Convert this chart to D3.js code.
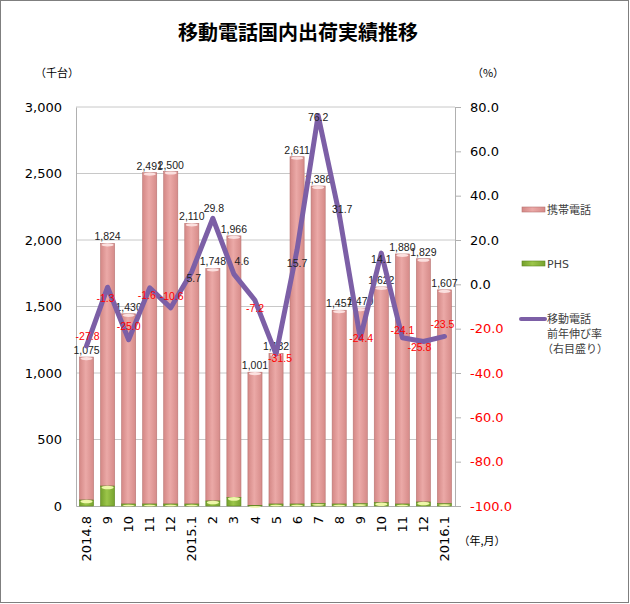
<!DOCTYPE html>
<html lang="ja">
<head>
<meta charset="utf-8">
<title>移動電話国内出荷実績推移</title>
<script src="https://d3js.org/d3.v7.min.js"></script>
<style>
  body { margin: 0; background: #fff; }
  svg text { font-family: "DejaVu Sans", "Noto Sans CJK JP", sans-serif; }
  .jp { font-family: "Noto Sans CJK JP", sans-serif; }
  .lbl { font-family: "Liberation Sans", "Noto Sans CJK JP", sans-serif; font-size: 10.5px; }
</style>
</head>
<body>
<div id="chart"></div>
<script>
// months (x categories)
var months = ["2014.8","9","10","11","12","2015.1","2","3","4","5","6","7","8","9","10","11","12","2016.1"]
// 携帯電話 shipments (千台)
var mobile = [1075,1824,1430,2491,2500,2110,1748,1966,1001,1132,2611,2386,1457,1470,1622,1880,1829,1607]
// PHS shipments (千台)
var phs = [45,150,15,15,15,15,38,65,5,15,15,20,15,18,25,15,30,18]
// 移動電話 前年伸び率 (%)
var growth = [-27.8,-1.3,-25.0,-1.6,-10.6,5.7,29.8,4.6,-7.2,-31.5,15.7,76.2,31.7,-24.4,14.1,-24.1,-25.8,-23.5]
var leftTicks = [0,500,1000,1500,2000,2500,3000]
var rightTicks = [-100,-80,-60,-40,-20,0,20,40,60,80]
// hand-placed nudges for the growth labels, as in the original sheet [dx, dy]
var growthNudge = [[1,-10],[-2,11],[0,-13],[-3,7],[1,-12],[2,7],[1,-10],[8,-13],[0,8],[4,4],[0,14],[0,2],[3,-5],[1,0],[0,6],[0,-7],[-4,6],[-2,-12]]

var w = 630, h = 604
var pLeft = 76, pRight = 455, pTop = 107, pBottom = 506

var svg = d3.select("#chart").append("svg")
  .attr("width", w).attr("height", h)

// outer frame
svg.append("rect")
  .attr("x", 0.5).attr("y", 0.5).attr("width", w - 2).attr("height", h - 2)
  .attr("fill", "#fff").attr("stroke", "#7f7f7f")

var defs = svg.append("defs")
var g1 = defs.append("linearGradient").attr("id", "pink")
g1.append("stop").attr("offset", "0%").attr("stop-color", "#d48886")
g1.append("stop").attr("offset", "45%").attr("stop-color", "#eba9a7")
g1.append("stop").attr("offset", "100%").attr("stop-color", "#d68b89")
var g2 = defs.append("linearGradient").attr("id", "green")
g2.append("stop").attr("offset", "0%").attr("stop-color", "#74a02c")
g2.append("stop").attr("offset", "45%").attr("stop-color", "#9cc64a")
g2.append("stop").attr("offset", "100%").attr("stop-color", "#76a22e")

var x = d3.scaleBand()
  .domain(months.map(function(d, i) { return i }))
  .range([pLeft, pRight])
  .paddingInner(0.33)
  .paddingOuter(0.165)

var y = d3.scaleLinear().domain([0, 3000]).range([pBottom, pTop])
var y2 = d3.scaleLinear().domain([-100, 80]).range([pBottom, pTop])

function pct(d) { return d.toFixed(1) }

// title
svg.append("text")
  .attr("class", "jp")
  .attr("x", 298).attr("y", 40)
  .attr("text-anchor", "middle")
  .style("font-size", "20px").style("font-weight", "bold")
  .text("移動電話国内出荷実績推移")

// gridlines
svg.append("g").selectAll("line")
  .data(leftTicks.filter(function(d) { return d > 0 }))
  .enter().append("line")
  .attr("x1", pLeft).attr("x2", pRight)
  .attr("y1", function(d) { return y(d) }).attr("y2", function(d) { return y(d) })
  .attr("stroke", "#c8c8c8")

// left axis
var yAxis = d3.axisLeft(y).tickValues(leftTicks).tickSize(0).tickPadding(14)
  .tickFormat(d3.format(","))
var ga = svg.append("g").attr("transform", "translate(" + pLeft + ",0)").call(yAxis)
ga.select(".domain").attr("stroke", "#b0b0b0")
ga.selectAll("text").style("font-size", "13px").attr("fill", "#000")

// right axis
var y2Axis = d3.axisRight(y2).tickValues(rightTicks).tickSize(6).tickPadding(9)
  .tickFormat(pct)
var gb = svg.append("g").attr("transform", "translate(" + pRight + ",0)").call(y2Axis)
gb.select(".domain").attr("stroke", "#b0b0b0")
gb.selectAll("line").attr("stroke", "#b0b0b0")
gb.selectAll("text").style("font-size", "13px")
  .attr("fill", function(d) { return d < 0 ? "#ff0000" : "#000" })

// bottom axis
var xAxis = d3.axisBottom(x).tickSize(0).tickPadding(0)
  .tickFormat(function(i) { return months[i] })
var gc = svg.append("g").attr("transform", "translate(0," + pBottom + ")").call(xAxis)
gc.select(".domain").attr("stroke", "#b0b0b0")
gc.selectAll("text")
  .style("font-size", "13px").attr("fill", "#000")
  .attr("text-anchor", "end")
  .attr("transform", "rotate(-90)")
  .attr("x", -10).attr("y", 0).attr("dy", "0.35em")

// unit labels
svg.append("text").attr("class", "jp").attr("x", 57).attr("y", 77)
  .attr("text-anchor", "middle").style("font-size", "11px").text("（千台）")
svg.append("text").attr("class", "jp").attr("x", 488).attr("y", 77)
  .attr("text-anchor", "middle").style("font-size", "11px").text("（%）")
svg.append("text").attr("class", "jp").attr("x", 482).attr("y", 545)
  .attr("text-anchor", "middle").style("font-size", "11px").text("（年,月）")

// stacked bars: PHS at bottom, 携帯電話 on top
var bw = x.bandwidth()
var bars = svg.append("g").selectAll("g")
  .data(months.map(function(d, i) { return i }))
  .enter().append("g")

bars.append("rect")
  .attr("x", function(i) { return x(i) })
  .attr("width", bw)
  .attr("y", function(i) { return y(phs[i] + mobile[i]) })
  .attr("height", function(i) { return y(phs[i]) - y(phs[i] + mobile[i]) })
  .attr("fill", "url(#pink)").attr("stroke", "#b87472").attr("stroke-width", 0.6)
bars.append("ellipse")
  .attr("cx", function(i) { return x(i) + bw / 2 })
  .attr("cy", function(i) { return y(phs[i] + mobile[i]) + 1.5 })
  .attr("rx", bw / 2 - 1).attr("ry", 1.6)
  .attr("fill", "#fbe0df")

bars.append("rect")
  .attr("x", function(i) { return x(i) })
  .attr("width", bw)
  .attr("y", function(i) { return y(phs[i]) })
  .attr("height", function(i) { return y(0) - y(phs[i]) })
  .attr("fill", "url(#green)").attr("stroke", "#5f8520").attr("stroke-width", 0.6)
bars.append("ellipse")
  .attr("cx", function(i) { return x(i) + bw / 2 })
  .attr("cy", function(i) { return y(phs[i]) + 1.5 })
  .attr("rx", bw / 2 - 1).attr("ry", function(i) { return phs[i] > 20 ? 1.8 : 0.8 })
  .attr("fill", "#eef7a8")

// bar value labels
svg.append("g").selectAll("text")
  .data(mobile)
  .enter().append("text")
  .attr("class", "lbl")
  .attr("x", function(d, i) { return x(i) + bw / 2 })
  .attr("y", function(d, i) { return y(d + phs[i]) - 3 })
  .attr("text-anchor", "middle")
  .attr("fill", "#222")
  .text(function(d) { return d3.format(",")(d) })

// growth line
var line = d3.line()
  .x(function(d, i) { return x(i) + bw / 2 })
  .y(function(d) { return y2(d) })
svg.append("path")
  .datum(growth)
  .attr("d", line)
  .attr("fill", "none")
  .attr("stroke", "#7c5fa6")
  .attr("stroke-width", 5)
  .attr("stroke-linejoin", "round")
  .attr("stroke-linecap", "round")

// growth labels
svg.append("g").selectAll("text")
  .data(growth)
  .enter().append("text")
  .attr("class", "lbl")
  .attr("x", function(d, i) { return x(i) + bw / 2 + growthNudge[i][0] })
  .attr("y", function(d, i) { return y2(d) + growthNudge[i][1] })
  .attr("dy", "0.35em")
  .attr("text-anchor", "middle")
  .attr("fill", function(d) { return d < 0 ? "#ff0000" : "#222" })
  .text(pct)

// legend
var lg = svg.append("g").attr("class", "jp")
lg.append("rect").attr("x", 522).attr("y", 207).attr("width", 23).attr("height", 5)
  .attr("fill", "url(#pink)").attr("stroke", "#b87472").attr("stroke-width", 0.6)
lg.append("text").attr("x", 547).attr("y", 214).style("font-size", "11px")
  .attr("fill", "#404040").text("携帯電話")
lg.append("rect").attr("x", 522).attr("y", 261).attr("width", 23).attr("height", 5)
  .attr("fill", "url(#green)").attr("stroke", "#5f8520").attr("stroke-width", 0.6)
lg.append("text").attr("x", 547).attr("y", 268).style("font-size", "11px")
  .attr("fill", "#404040").text("PHS")
lg.append("line").attr("x1", 521).attr("x2", 545).attr("y1", 319).attr("y2", 319)
  .attr("stroke", "#7c5fa6").attr("stroke-width", 4).attr("stroke-linecap", "round")
lg.append("text").attr("x", 547).attr("y", 323).style("font-size", "11px")
  .attr("fill", "#404040").text("移動電話")
lg.append("text").attr("x", 547).attr("y", 338).style("font-size", "11px")
  .attr("fill", "#404040").text("前年伸び率")
lg.append("text").attr("x", 542).attr("y", 353).style("font-size", "11px")
  .attr("fill", "#404040").text("（右目盛り）")
</script>
</body>
</html>
